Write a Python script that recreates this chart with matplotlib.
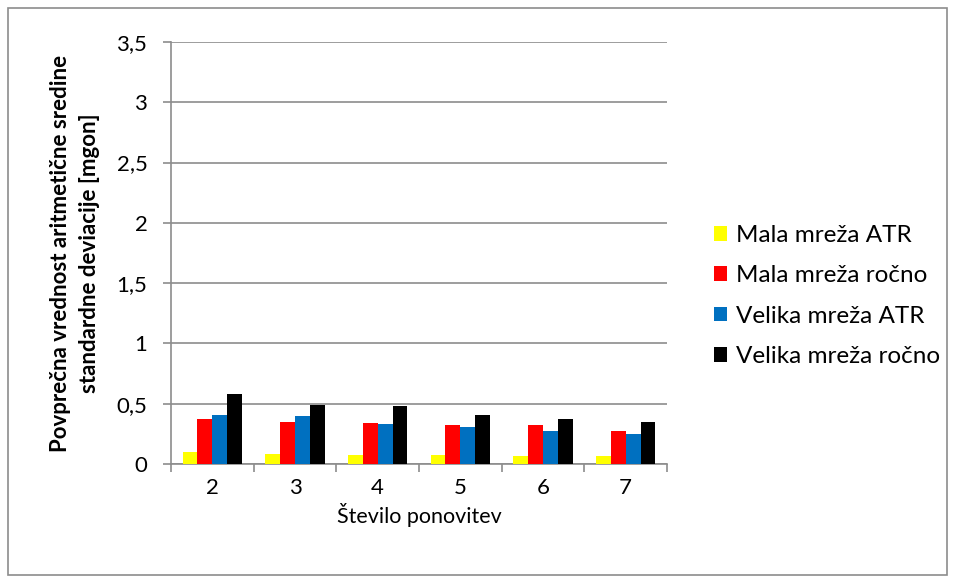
import numpy as np
import matplotlib.pyplot as plt
from matplotlib.patches import Rectangle

# DATA
categories = ["2", "3", "4", "5", "6", "7"]
mala_atr = [0.096, 0.082, 0.072, 0.074, 0.066, 0.066]
mala_rocno = [0.376, 0.35, 0.34, 0.32, 0.32, 0.275]
velika_atr = [0.41, 0.40, 0.335, 0.305, 0.27, 0.25]
velika_rocno = [0.58, 0.49, 0.48, 0.41, 0.373, 0.346]

series = [
    ("Mala mreža ATR", mala_atr, "#ffff00"),
    ("Mala mreža ročno", mala_rocno, "#ff0000"),
    ("Velika mreža ATR", velika_atr, "#0070c0"),
    ("Velika mreža ročno", velika_rocno, "#000000"),
]

plt.rcParams['font.family'] = ['Lato', 'DejaVu Sans']

fig = plt.figure(figsize=(9.55, 5.82), dpi=100)
ax = fig.add_axes([171 / 955, 1 - 464 / 582, (667 - 171) / 955, (464 - 42) / 582])

# outer chart border
fig.patches.append(Rectangle((8 / 955, 7 / 582), 939 / 955, 567 / 582,
                             transform=fig.transFigure, fill=False,
                             edgecolor="#8c8c8c", linewidth=1.2))

x = np.arange(len(categories))
width = 0.18
for i, (name, vals, color) in enumerate(series):
    ax.bar(x + (i - 1.5) * width, vals, width, color=color, label=name, zorder=3)

ax.set_xlim(-0.5, len(categories) - 0.5)
ax.set_ylim(0, 3.5)
ax.set_yticks(np.arange(0, 3.51, 0.5))
ax.set_yticklabels([("%g" % v).replace(".", ",") for v in np.arange(0, 3.51, 0.5)])
ax.set_xticks(x)
ax.set_xticklabels(categories)
ax.set_xticks(np.arange(-0.5, len(categories), 1), minor=True)
ax.tick_params(axis="x", which="major", length=0, pad=10, labelsize=16)
ax.tick_params(axis="x", which="minor", length=6, color="#8c8c8c", width=1.2)
ax.tick_params(axis="y", length=6, color="#8c8c8c", width=1.2, pad=11, labelsize=16)

ax.grid(axis="y", color="#8c8c8c", linewidth=1.2, zorder=0)
for s in ["top", "right"]:
    ax.spines[s].set_visible(False)
for s in ["left", "bottom"]:
    ax.spines[s].set_color("#8c8c8c")
    ax.spines[s].set_linewidth(1.2)

ax.set_xlabel("Število ponovitev", fontsize=15.5, labelpad=4)
ax.set_ylabel("Povprečna vrednost aritmetične sredine\nstandardne deviacije [mgon]",
              fontsize=16, fontweight="bold", labelpad=12, linespacing=1.45)

ax.legend(loc="center left", bbox_to_anchor=(692 / 955, 286 / 582),
          bbox_transform=fig.transFigure, frameon=False, fontsize=17.5,
          handlelength=0.55, handleheight=0.55, handletextpad=0.35, labelspacing=0.8)

fig.savefig("out.png", dpi=100)
